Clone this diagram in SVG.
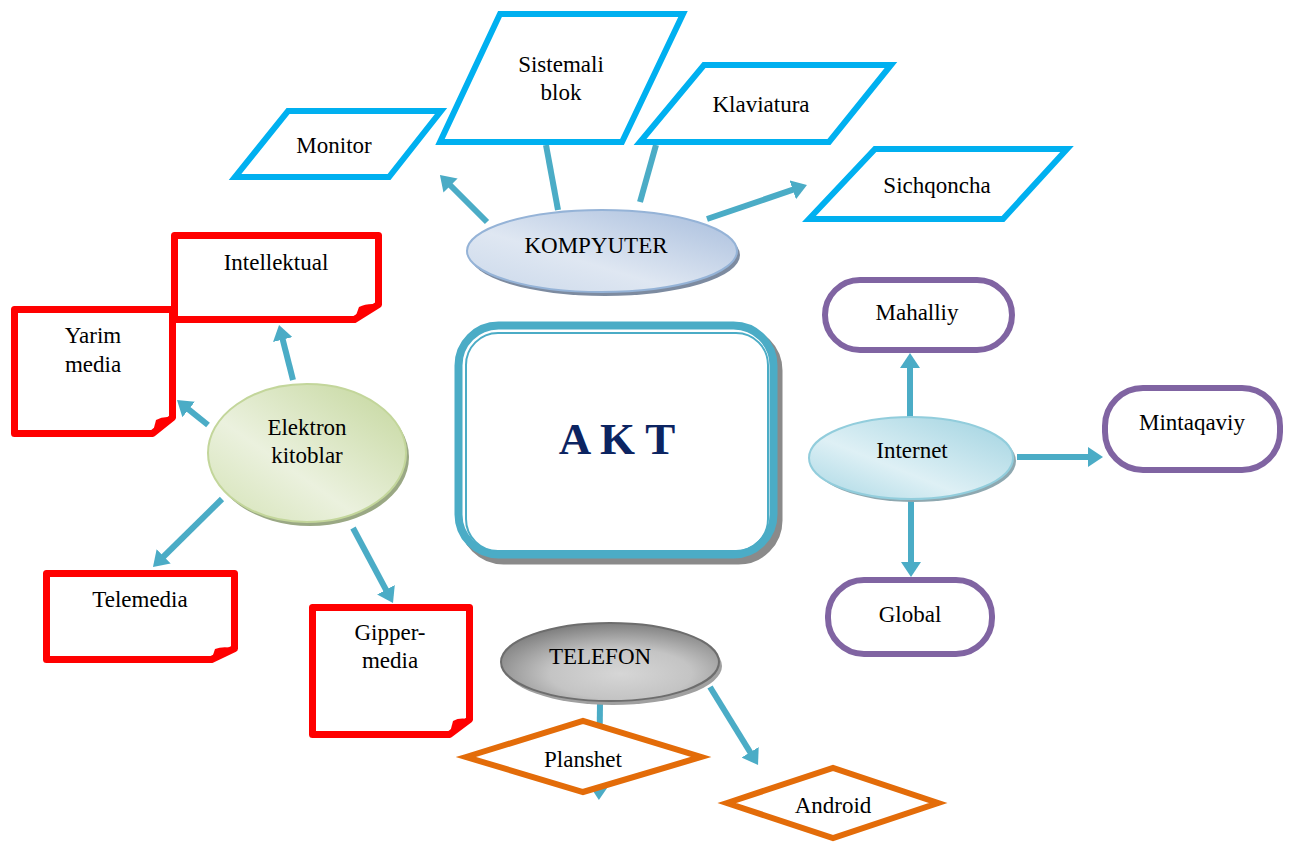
<svg xmlns="http://www.w3.org/2000/svg" width="1292" height="843" viewBox="0 0 1292 843" font-family="Liberation Serif, serif">
  <defs>
    <marker id="head" markerUnits="userSpaceOnUse" markerWidth="20" markerHeight="20" refX="5" refY="10" orient="auto">
      <path d="M0,0 L15,10 L0,20 Z" fill="#4BACC6"/>
    </marker>
    <linearGradient id="gBlue" x1="1" y1="0" x2="0" y2="1">
      <stop offset="0" stop-color="#a6bcdc"/>
      <stop offset="0.6" stop-color="#dfe7f2"/>
      <stop offset="1" stop-color="#cad8ea"/>
    </linearGradient>
    <linearGradient id="gGreen" x1="1" y1="0" x2="0" y2="1">
      <stop offset="0" stop-color="#c3d69b"/>
      <stop offset="0.6" stop-color="#ebf1de"/>
      <stop offset="1" stop-color="#d3e2b4"/>
    </linearGradient>
    <linearGradient id="gCyan" x1="1" y1="0" x2="0" y2="1">
      <stop offset="0" stop-color="#9fd2e0"/>
      <stop offset="0.6" stop-color="#def0f5"/>
      <stop offset="1" stop-color="#a8d7e4"/>
    </linearGradient>
    <radialGradient id="gGray" cx="0.55" cy="0.65" r="0.65">
      <stop offset="0" stop-color="#d6d6d6"/>
      <stop offset="0.5" stop-color="#c4c4c4"/>
      <stop offset="1" stop-color="#7f7f7f"/>
    </radialGradient>
    <style>
      text { font-family: 'Liberation Serif', serif; }
      .lbl { font-size: 23px; fill: #000; text-anchor: middle; }
      .conn { stroke: #4BACC6; stroke-width: 6; fill: none; }
      .arr { marker-end: url(#head); }
      .para { fill: #fff; stroke: #00B0F0; stroke-width: 6; stroke-linejoin: miter; }
      .note { fill: #fff; stroke: #FF0000; stroke-width: 7; stroke-linejoin: round; }
      .fold { fill: #FF0000; }
      .pill { fill: #fff; stroke: #8064A2; stroke-width: 6; }
      .dia { fill: #fff; stroke: #E36C09; stroke-width: 6; }
    </style>
  </defs>

  <!-- connectors -->
  <g id="connectors">
    <line class="conn arr" x1="487" y1="222" x2="447" y2="182"/>
    <line class="conn" x1="558" y1="210" x2="546" y2="145"/>
    <line class="conn" x1="640" y1="202" x2="656" y2="145"/>
    <line class="conn arr" x1="707" y1="219" x2="797.5" y2="188.2"/>
    <line class="conn arr" x1="293" y1="380" x2="281.5" y2="334.7"/>
    <line class="conn arr" x1="208" y1="425" x2="184.8" y2="406.3"/>
    <line class="conn arr" x1="222" y1="499" x2="160.1" y2="560"/>
    <line class="conn arr" x1="353" y1="528" x2="388.3" y2="594.2"/>
    <line class="conn arr" x1="600" y1="703" x2="599" y2="790"/>
    <line class="conn arr" x1="710" y1="687" x2="752.8" y2="756.5"/>
    <line class="conn arr" x1="910" y1="417" x2="910" y2="363"/>
    <line class="conn arr" x1="1017" y1="457" x2="1093" y2="457"/>
    <line class="conn arr" x1="911" y1="499" x2="911" y2="567"/>
  </g>

  <!-- central box -->
  <g id="akt">
    <rect x="463.5" y="330.5" width="315" height="230" rx="40" fill="#8a8a8a" stroke="#8a8a8a" stroke-width="8"/>
    <rect x="458.5" y="325.5" width="315" height="229" rx="40" fill="#fff" stroke="#4BACC6" stroke-width="8"/>
    <rect x="466" y="333" width="302" height="218" rx="32" fill="none" stroke="#4BACC6" stroke-width="2"/>
    <text x="617" y="454" text-anchor="middle" font-family="Liberation Serif, serif" font-size="45" font-weight="bold" fill="#0C2461">A K T</text>
  </g>

  <!-- computer group -->
  <g id="monitor">
    <polygon class="para" points="288,111 441,111 389,177 235,177"/>
    <text class="lbl" font-family="Liberation Serif, serif" x="334" y="153">Monitor</text>
  </g>
  <g id="sistemali-blok">
    <polygon class="para" points="500,14 683,14 622,142 440,142"/>
    <text class="lbl" font-family="Liberation Serif, serif" x="561" y="72">Sistemali</text>
    <text class="lbl" font-family="Liberation Serif, serif" x="561" y="100">blok</text>
  </g>
  <g id="klaviatura">
    <polygon class="para" points="704,65 891,65 829,142 640,142"/>
    <text class="lbl" font-family="Liberation Serif, serif" x="761" y="112">Klaviatura</text>
  </g>
  <g id="sichqoncha">
    <polygon class="para" points="875,149 1067,149 1003,219 809,219"/>
    <text class="lbl" font-family="Liberation Serif, serif" x="937" y="193">Sichqoncha</text>
  </g>
  <g id="kompyuter">
    <ellipse cx="605" cy="255" rx="135" ry="41" fill="#7d8ba0"/>
    <ellipse cx="602" cy="251" rx="135" ry="41" fill="url(#gBlue)" stroke="#95b3d7" stroke-width="2"/>
    <text class="lbl" font-family="Liberation Serif, serif" x="596" y="253">KOMPYUTER</text>
  </g>

  <!-- e-book group -->
  <g id="intellektual">
    <path class="note" d="M174.5,235.5 H378.5 V304.5 L354.5,319.5 H174.5 Z"/>
    <path class="fold" d="M354.5,319.5 L359,307 Q367,303 378.5,304.5 Z"/>
    <text class="lbl" font-family="Liberation Serif, serif" x="276" y="270">Intellektual</text>
  </g>
  <g id="yarim-media">
    <path class="note" d="M14.5,309.5 H172.5 V417.5 L152.5,433.5 H14.5 Z"/>
    <path class="fold" d="M152.5,433.5 L156,420 Q163,416 172.5,417.5 Z"/>
    <text class="lbl" font-family="Liberation Serif, serif" x="93" y="343">Yarim</text>
    <text class="lbl" font-family="Liberation Serif, serif" x="93" y="372">media</text>
  </g>
  <g id="telemedia">
    <path class="note" d="M46.5,573.5 H234.5 V648.5 L211.5,659.5 H46.5 Z"/>
    <path class="fold" d="M211.5,659.5 L215,649 Q223,646 234.5,648.5 Z"/>
    <text class="lbl" font-family="Liberation Serif, serif" x="140" y="607">Telemedia</text>
  </g>
  <g id="gipper-media">
    <path class="note" d="M312.5,607.5 H469.5 V719.5 L449.5,734.5 H312.5 Z"/>
    <path class="fold" d="M449.5,734.5 L453,721 Q460,717 469.5,719.5 Z"/>
    <text class="lbl" font-family="Liberation Serif, serif" x="390" y="640">Gipper-</text>
    <text class="lbl" font-family="Liberation Serif, serif" x="390" y="668">media</text>
  </g>
  <g id="elektron-kitoblar">
    <ellipse cx="310" cy="457" rx="99" ry="69" fill="#9aa884"/>
    <ellipse cx="307" cy="453" rx="99" ry="69" fill="url(#gGreen)" stroke="#c3d69b" stroke-width="2"/>
    <text class="lbl" font-family="Liberation Serif, serif" x="307" y="435">Elektron</text>
    <text class="lbl" font-family="Liberation Serif, serif" x="307" y="463">kitoblar</text>
  </g>

  <!-- phone group -->
  <g id="planshet">
    <polygon class="dia" points="466,757 583,721 701,757 583,792"/>
    <text class="lbl" font-family="Liberation Serif, serif" x="583" y="767">Planshet</text>
  </g>
  <g id="android">
    <polygon class="dia" points="727,803 833,768 938,803 833,838"/>
    <text class="lbl" font-family="Liberation Serif, serif" x="833" y="813">Android</text>
  </g>
  <g id="telefon">
    <ellipse cx="613" cy="666" rx="109" ry="39" fill="#a0a0a0"/>
    <ellipse cx="610" cy="662" rx="109" ry="39" fill="url(#gGray)" stroke="#6d6d6d" stroke-width="2"/>
    <text class="lbl" font-family="Liberation Serif, serif" x="600" y="664">TELEFON</text>
  </g>

  <!-- internet group -->
  <g id="mahalliy">
    <rect class="pill" x="825" y="280" width="187" height="70" rx="35"/>
    <text class="lbl" font-family="Liberation Serif, serif" x="917" y="320">Mahalliy</text>
  </g>
  <g id="mintaqaviy">
    <rect class="pill" x="1105" y="388" width="175" height="82" rx="38"/>
    <text class="lbl" font-family="Liberation Serif, serif" x="1192" y="430">Mintaqaviy</text>
  </g>
  <g id="global">
    <rect class="pill" x="828" y="580" width="164" height="74" rx="36"/>
    <text class="lbl" font-family="Liberation Serif, serif" x="910" y="622">Global</text>
  </g>
  <g id="internet">
    <ellipse cx="914" cy="461" rx="102" ry="41" fill="#8ea8b0"/>
    <ellipse cx="911" cy="458" rx="102" ry="41" fill="url(#gCyan)" stroke="#92cddc" stroke-width="2"/>
    <text class="lbl" font-family="Liberation Serif, serif" x="912" y="458">Internet</text>
  </g>
</svg>
